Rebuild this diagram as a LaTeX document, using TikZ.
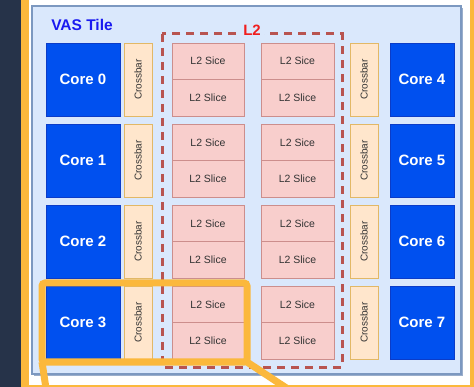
\documentclass[tikz,border=0pt]{standalone}
\usepackage{fontspec}
\setmainfont{Liberation Sans}
\definecolor{navy}{HTML}{263349}
\definecolor{orangec}{HTML}{FBB83C}
\definecolor{tilefill}{HTML}{DAE8FC}
\definecolor{tileline}{HTML}{7C98C0}
\definecolor{tileshadow}{HTML}{9AAECB}
\definecolor{corefill}{HTML}{0050EF}
\definecolor{coreline}{HTML}{0B3CC8}
\definecolor{xbarfill}{HTML}{FFE6CC}
\definecolor{xbarline}{HTML}{E2B866}
\definecolor{slicefill}{HTML}{F8CECC}
\definecolor{sliceline}{HTML}{CC8E8C}
\definecolor{dashred}{HTML}{B85450}
\definecolor{textgray}{HTML}{333333}
\definecolor{titleblue}{HTML}{1A1AF0}
\definecolor{l2red}{HTML}{F01E1E}
\begin{document}
\begin{tikzpicture}[x=1pt,y=-1pt,
  core/.style={draw=coreline,fill=corefill,line width=0.8pt,text=white,
    font=\fontsize{15}{18}\selectfont\bfseries,inner sep=0pt,minimum height=73pt},
  xbar/.style={draw=xbarline,fill=xbarfill,line width=0.8pt,rotate=90,
    minimum width=73pt,minimum height=28pt,inner sep=0pt,text=textgray,
    font=\fontsize{10}{12}\selectfont},
  slice/.style={draw=sliceline,fill=slicefill,line width=0.8pt,minimum height=36.5pt,
    inner sep=0pt,text=textgray,font=\fontsize{10.5}{12}\selectfont},
  callout/.style={draw=orangec,line width=7pt}]
\useasboundingbox (0,0) rectangle (474,387);
\clip (0,0) rectangle (474,387);
\fill[white] (0,0) rectangle (474,387);
\fill[navy] (0,0) rectangle (21,387);
% tile
\fill[tileshadow] (34,8) rectangle (463,376);
\draw[tileline,fill=tilefill,line width=1.5pt] (32,6) rectangle (461,374);
\node[text=titleblue,font=\fontsize{15.5}{18}\selectfont\bfseries] (title) at (82,25) {VAS Tile};
% L2 dashed region
\draw[dashred,line width=3pt,dash pattern=on 8pt off 6pt] (162,34) rectangle (342,367);
\node[fill=tilefill,text=l2red,font=\fontsize{15}{18}\selectfont\bfseries,inner sep=3pt] (l2) at (252,30) {L2};
% rows
\foreach \i in {0,1,2,3}{
  \pgfmathsetmacro{\t}{43+81*\i}
  \pgfmathtruncatemacro{\j}{\i+4}
  \node[core,minimum width=74pt] (coreL\i) at (83,\t+36.5) {Core \i};
  \node[xbar] (xbarL\i) at (138,\t+36.5) {Crossbar};
  \node[slice,minimum width=72pt] (sA\i) at (208,\t+18.25) {L2 Sice};
  \node[slice,minimum width=72pt] (sB\i) at (208,\t+54.75) {L2 Slice};
  \node[slice,minimum width=73pt] (sC\i) at (297.5,\t+18.25) {L2 Sice};
  \node[slice,minimum width=73pt] (sD\i) at (297.5,\t+54.75) {L2 Slice};
  \node[xbar] (xbarR\i) at (364,\t+36.5) {Crossbar};
  \node[core,minimum width=64pt] (coreR\i) at (422,\t+36.5) {Core \j};
}
% outer orange frame
\draw[orangec,line width=8pt] (25,-10) -- (25,389) -- (474,389) -- (474,-10);
% callout
\draw[callout,rounded corners=3pt] (42,283) rectangle (247,362);
\coordinate (cbl) at (42,362);
\coordinate (cbr) at (247,362);
\coordinate (ebl) at (47,395);
\coordinate (ebr) at (300,397);
\draw[callout] (cbl) -- (ebl);
\draw[callout] (cbr) -- (ebr);
\end{tikzpicture}
\end{document}
